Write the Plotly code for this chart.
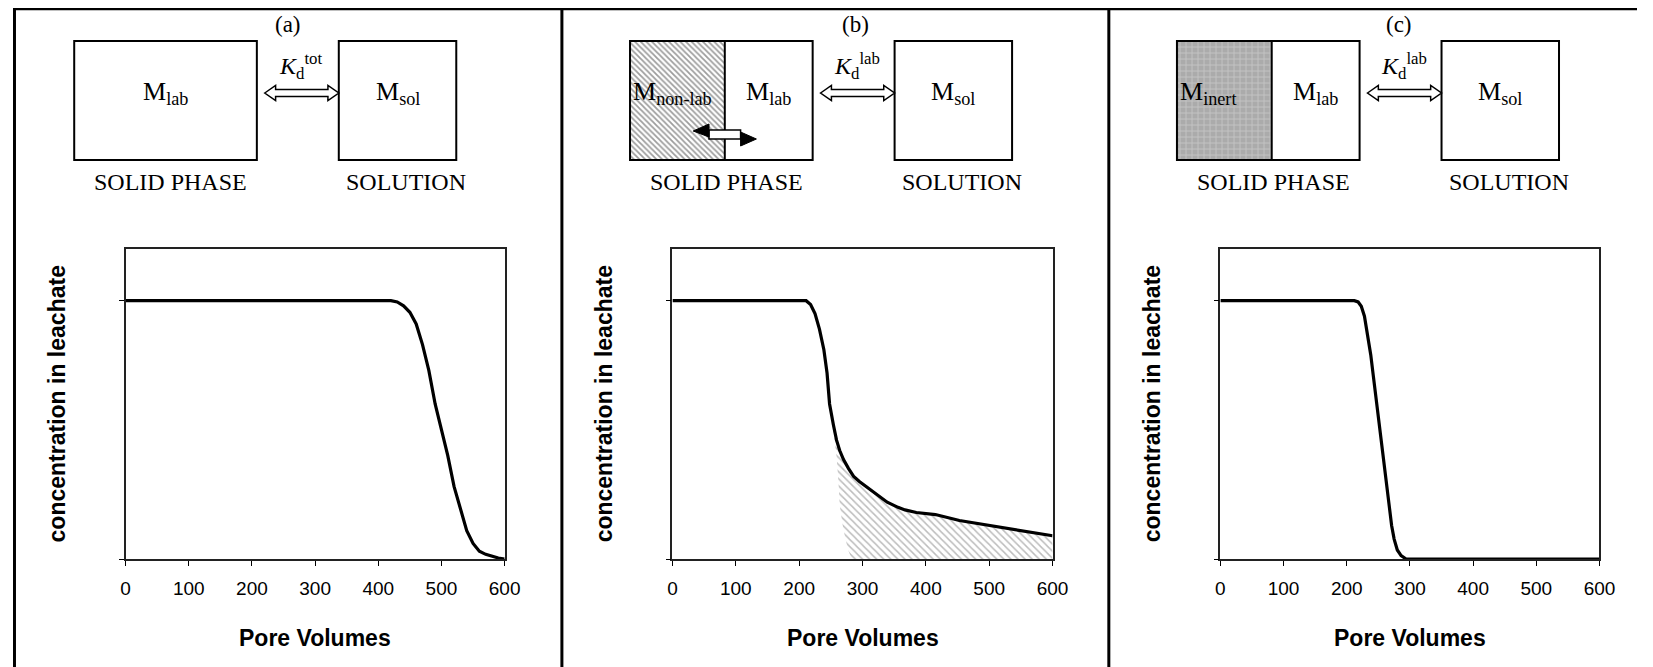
import plotly.graph_objects as go

# ---- data ----
pore_a = [0, 100, 200, 300, 400, 420, 430, 440, 450, 460, 470, 480, 490, 500, 510, 520, 530, 540, 550, 560, 570, 580, 590, 600]
conc_a = [1, 1, 1, 1, 1, 1, 0.995, 0.98, 0.955, 0.91, 0.83, 0.73, 0.6, 0.5, 0.4, 0.28, 0.19, 0.11, 0.06, 0.03, 0.018, 0.01, 0.004, 0]

pore_b = [0, 100, 200, 211, 218, 225, 232, 239, 244, 248, 254, 259, 264, 270, 278, 286, 295, 303, 313, 323, 339, 356, 367, 385, 415, 453, 480, 515, 550, 580, 600]
conc_b = [1, 1, 1, 1, 0.985, 0.95, 0.89, 0.81, 0.72, 0.6, 0.52, 0.46, 0.42, 0.385, 0.35, 0.32, 0.3, 0.285, 0.265, 0.25, 0.22, 0.2, 0.19, 0.18, 0.172, 0.149, 0.138, 0.122, 0.11, 0.098, 0.09]

# lower edge of the hatched (non-labile) release area in panel b
pore_b_edge = [250, 255, 259, 262, 264, 268, 273, 278, 283, 600]
conc_b_edge = [0.57, 0.48, 0.4, 0.3, 0.21, 0.14, 0.077, 0.03, 0, 0]

pore_c = [0, 100, 200, 212, 218, 223, 228, 234, 238, 242, 246, 250, 255, 259, 263, 267, 271, 275, 280, 286, 290, 294, 300, 400, 500, 600]
conc_c = [1, 1, 1, 1, 0.995, 0.978, 0.94, 0.86, 0.79, 0.71, 0.63, 0.55, 0.45, 0.36, 0.27, 0.19, 0.13, 0.077, 0.035, 0.013, 0.005, 0, 0, 0, 0, 0]

x_ticks = [0, 100, 200, 300, 400, 500, 600]
panel_tags = ["(a)", "(b)", "(c)"]
kd_tags = ["tot", "lab", "lab"]

# the page puts the figure 8px in from the top-left corner, so the figure is
# sized to fill the rest of the window and everything is placed in page pixels
PW, PH, OFF = 1653, 667, 8
W, H = PW - OFF, PH - OFF
SERIF = "Times New Roman, Liberation Serif, serif"
SANS = "Arial, Liberation Sans, sans-serif"


def fx(px):
    return (px - OFF) / W


def fy(py):
    return 1 - (py - OFF) / H


fig = go.Figure()

# canvas axis in page pixels for the box diagrams
fig.update_layout(
    xaxis4=dict(domain=[0, 1], range=[OFF, PW], visible=False, anchor="y4", fixedrange=True),
    yaxis4=dict(domain=[0, 1], range=[PH, OFF], visible=False, anchor="x4", fixedrange=True),
)

shapes = []


def line(x0, y0, x1, y1, w=3):
    shapes.append(dict(type="line", xref="x4", yref="y4", x0=x0, y0=y0, x1=x1, y1=y1,
                       line=dict(color="black", width=w)))


def rect(x0, y0, x1, y1, w=2):
    shapes.append(dict(type="rect", xref="x4", yref="y4", x0=x0, y0=y0, x1=x1, y1=y1,
                       line=dict(color="black", width=w), fillcolor="rgba(0,0,0,0)", layer="above"))


def hollow_arrow(x0, x1, yc, sh=3.5, hh=7.5, hl=11):
    p = (f"M{x0},{yc} L{x0 + hl},{yc - hh} L{x0 + hl},{yc - sh} L{x1 - hl},{yc - sh} "
         f"L{x1 - hl},{yc - hh} L{x1},{yc} L{x1 - hl},{yc + hh} L{x1 - hl},{yc + sh} "
         f"L{x0 + hl},{yc + sh} L{x0 + hl},{yc + hh} Z")
    shapes.append(dict(type="path", xref="x4", yref="y4", path=p, fillcolor="white",
                       line=dict(color="black", width=1.5)))


def label(x, y, text, size=24, xanchor="center", family=SERIF, angle=0):
    fig.add_annotation(x=fx(x), y=fy(y), xref="paper", yref="paper", text=text, showarrow=False,
                       xanchor=xanchor, yanchor="middle", textangle=angle,
                       font=dict(family=family, size=size, color="black"))


# ---- the three curve panels ----
plot_px = [(122, 506), (676, 1061), (1231, 1615)]
top_px, bot_px = 249, 559

curves = [(pore_a, conc_a), (pore_b, conc_b), (pore_c, conc_c)]
for i, (px, (xs, ys)) in enumerate(zip(plot_px, curves)):
    n = "" if i == 0 else str(i + 1)
    if i == 1:
        fig.add_trace(go.Scatter(x=pore_b_edge, y=conc_b_edge, mode="lines",
                                 line=dict(width=0, color="rgba(0,0,0,0)"),
                                 xaxis="x2", yaxis="y2", showlegend=False, hoverinfo="skip"))
        k = pore_b.index(248)
        fig.add_trace(go.Scatter(x=[250] + pore_b[k + 2:], y=[0.57] + conc_b[k + 2:], mode="lines",
                                 line=dict(width=0, color="rgba(0,0,0,0)"), fill="tonexty",
                                 fillcolor="rgba(0,0,0,0)",
                                 fillpattern=dict(shape="\\", fgcolor="#7a7a7a", bgcolor="white",
                                                  size=5, solidity=0.3),
                                 xaxis="x2", yaxis="y2", showlegend=False, hoverinfo="skip"))
    fig.add_trace(go.Scatter(x=xs, y=ys, mode="lines", line=dict(color="black", width=3.2),
                             xaxis="x" + n, yaxis="y" + n, showlegend=False))
    ax = dict(domain=[fx(px[0]), fx(px[1])], range=[0, 600], tickvals=x_ticks,
              ticks="outside", ticklen=5, tickcolor="black", showgrid=False, zeroline=False,
              showline=True, linecolor="#222222", linewidth=1.5, mirror=True,
              ticklabelstandoff=6,
              tickfont=dict(family=SANS, size=19, color="black"), anchor="y" + n)
    ay = dict(domain=[fy(bot_px), fy(top_px)], range=[0, 1.2], tickvals=[0, 1],
              showticklabels=False, ticks="outside", ticklen=5, tickcolor="black",
              showgrid=False, zeroline=False, showline=True, linecolor="#222222",
              linewidth=1.5, mirror=True, anchor="x" + n)
    fig.update_layout({"xaxis" + n: ax, "yaxis" + n: ay})
    label((px[0] + px[1]) / 2, 638, "<b>Pore Volumes</b>", size=23, family=SANS)
    label(px[0] - 69, (top_px + bot_px) / 2, "<b>concentration in leachate</b>",
          size=23, family=SANS, angle=-90)

# ---- outer frame and panel dividers ----
line(9, 9, PW, 9, 2.5)
line(9.5, 8, 9.5, PH)
line(564, 8, 564, PH)
line(1118, 8, 1118, PH)

# ---- box diagrams ----
offsets = [0, 563, 1117]
tag_x = [287, 861, 1412]
for i, off in enumerate(offsets):
    box_l, box_r = 70 + off, 255 + off
    sol_l, sol_r = 338 + off, 457 + off
    if i > 0:
        split = box_l + 96
        if i == 1:
            pat = dict(shape="\\", fgcolor="#3c3c3c", bgcolor="white", size=4, solidity=0.45)
        else:
            pat = dict(shape="+", fgcolor="#e2e2e2", bgcolor="#ababab", size=6, solidity=0.25)
        fig.add_trace(go.Scatter(x=[box_l, split, split, box_l, box_l], y=[41, 41, 160, 160, 41],
                                 mode="lines", fill="toself", fillcolor="rgba(0,0,0,0)",
                                 fillpattern=pat, line=dict(width=0), xaxis="x4", yaxis="y4",
                                 showlegend=False, hoverinfo="skip"))
        line(split, 41, split, 160, 2)
    rect(box_l, 41, box_r, 160)
    rect(sol_l, 41, sol_r, 160)
    hollow_arrow(box_r + 8, sol_l, 93)
    label(tag_x[i], 25, panel_tags[i], size=23)
    label((box_r + sol_l) / 2 + 3, 66, f"<i>K</i><sub>d</sub><sup>{kd_tags[i]}</sup>", size=24)
    label((box_l + box_r) / 2 + 5, 182, "SOLID PHASE")
    label((sol_l + sol_r) / 2 + 9, 182, "SOLUTION")
    label((sol_l + sol_r) / 2, 93, "M<sub>sol</sub>", size=26)
    if i == 0:
        label((box_l + box_r) / 2, 93, "M<sub>lab</sub>", size=26)
    else:
        label((box_l + 96 + box_r) / 2, 93, "M<sub>lab</sub>", size=26)
        label(box_l + 1, 93, "M<sub>non-lab</sub>" if i == 1 else "M<sub>inert</sub>",
              size=26, xanchor="left")

# exchange arrow inside the solid phase of panel b
shapes.append(dict(type="path", xref="x4", yref="y4", fillcolor="white",
                   path="M713,130 L745,130 L745,139 L713,139 Z", line=dict(color="black", width=1.5)))
shapes.append(dict(type="path", xref="x4", yref="y4", fillcolor="black",
                   path="M697,131 L713,124 L713,137 Z", line=dict(color="black", width=1)))
shapes.append(dict(type="path", xref="x4", yref="y4", fillcolor="black",
                   path="M761,139 L745,132 L745,146 Z", line=dict(color="black", width=1)))

fig.update_layout(
    shapes=shapes,
    width=W, height=H,
    margin=dict(l=0, r=0, t=0, b=0),
    paper_bgcolor="white", plot_bgcolor="rgba(0,0,0,0)",
    showlegend=False,
)

fig.write_html("out.html")
